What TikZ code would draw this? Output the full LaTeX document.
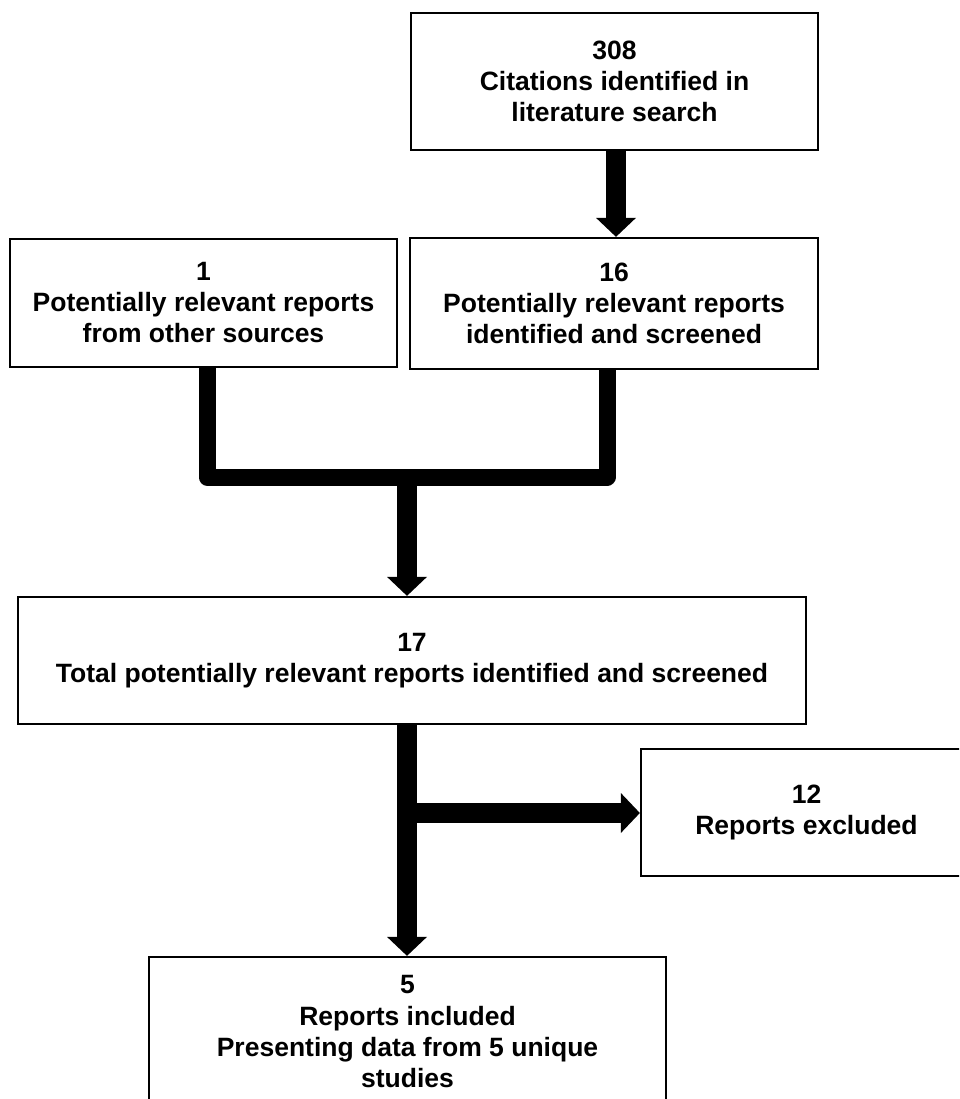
\documentclass[tikz,border=0pt]{standalone}
\usepackage{fontspec}
\setmainfont{Liberation Sans}
\usetikzlibrary{arrows.meta}
\begin{document}
\begin{tikzpicture}[x=1pt,y=-1pt,
  box/.style={draw, line width=2.3pt, rectangle, inner sep=0pt, align=center,
    font=\fontsize{26.5}{31}\selectfont\bfseries},
  arr/.style={line width=20pt, -{Triangle[width=40pt,length=19pt,line width=0pt]}},
  bar/.style={line width=17pt, line join=round}]
\useasboundingbox (0,0) rectangle (959,1099);
\clip (0,0) rectangle (959,1099);

\node[box, minimum width=407pt, minimum height=137pt] (n308) at (614.5,81.5)
  {308\\Citations identified in\\literature search};
\node[box, minimum width=387pt, minimum height=128pt] (n1) at (203.5,303)
  {1\\Potentially relevant reports\\from other sources};
\node[box, minimum width=408pt, minimum height=131pt] (n16) at (614,303.5)
  {16\\Potentially relevant reports\\identified and screened};
\node[box, minimum width=788pt, minimum height=127pt] (n17) at (412,660.5)
  {17\\Total potentially relevant reports identified and screened};
\node[box, minimum width=331pt, minimum height=127pt] (n12) at (806.5,812.5)
  {12\\Reports excluded};
\node[box, minimum width=517pt, minimum height=149pt] (n5) at (407.5,1031.5)
  {5\\Reports included\\Presenting data from 5 unique\\studies};

\coordinate (ta) at (616,0);
\coordinate (jl) at (207,477);
\coordinate (jr) at (607,477);
\coordinate (jm) at (407,477);
\coordinate (br) at (407,813);

\draw[arr] (ta |- n308.south) -- (ta |- n16.north);
\draw[bar] (jl |- n1.south) -- (jl) -- (jr) -- (jr |- n16.south);
\draw[arr] (jm) -- (jm |- n17.north);
\draw[arr] (jm |- n17.south) -- (jm |- n5.north);
\draw[arr] (br) -- (br -| n12.west);
\end{tikzpicture}
\end{document}
